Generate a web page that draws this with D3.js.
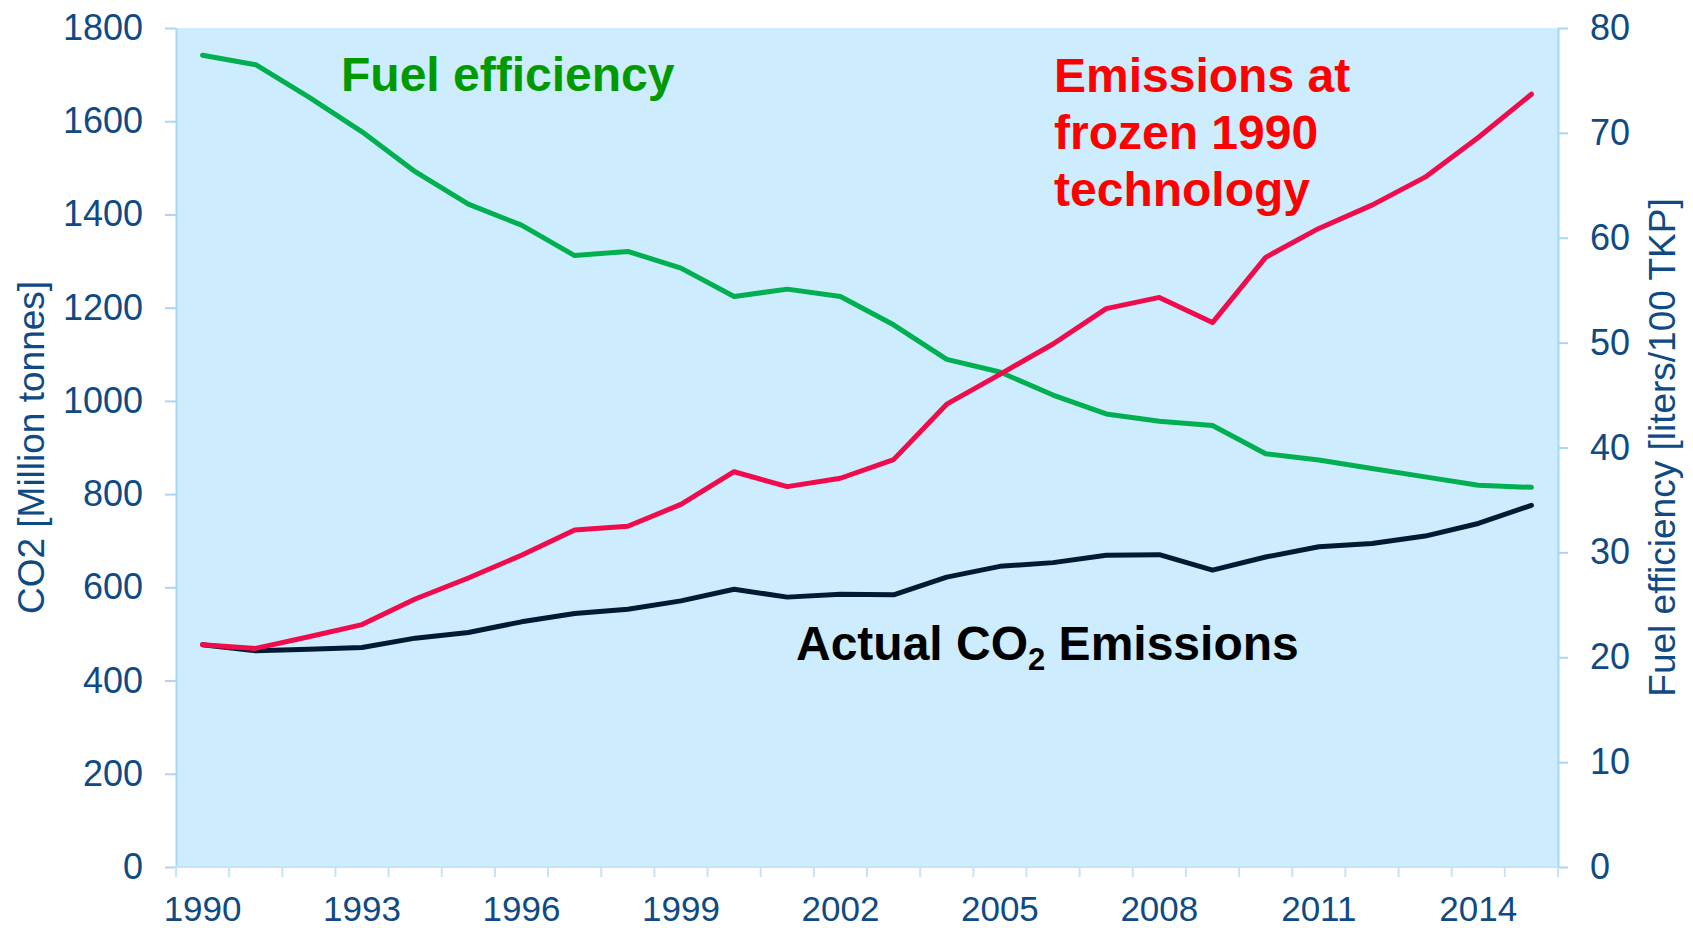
<!DOCTYPE html>
<html>
<head>
<meta charset="utf-8">
<script src="https://cdn.jsdelivr.net/npm/d3@7"></script>
<style>
  html, body { margin: 0; padding: 0; background: #ffffff; }
  svg { display: block; font-family: "Liberation Sans", Arial, Helvetica, sans-serif; }
</style>
</head>
<body>
<svg id="chart" width="1693" height="928"></svg>
<script>
// Years on the category axis
const years = d3.range(1990, 2016);
// Years that carry a printed label
const labelYears = [1990, 1993, 1996, 1999, 2002, 2005, 2008, 2011, 2014];

// CO2 emissions if 1990 technology had stayed in use [Million tonnes]
const frozenEmissions = [477, 469, 494, 520, 575, 620, 669, 723, 731, 778, 848, 816, 834, 874, 993,
                         1057, 1122, 1198, 1222, 1168, 1308, 1370, 1420, 1480, 1565, 1658];
// Actual CO2 emissions [Million tonnes]
const actualEmissions = [477, 464, 467, 471, 491, 503, 526, 544, 553, 571, 596, 579, 585, 584, 622,
                         645, 653, 669, 670, 637, 665, 687, 694, 710, 737, 776];
// Fuel efficiency [liters/100 TKP], right axis
const fuelEfficiency = [77.4, 76.5, 73.4, 70.1, 66.3, 63.2, 61.2, 58.3, 58.7, 57.1, 54.4, 55.1, 54.4,
                        51.7, 48.4, 47.2, 45.0, 43.2, 42.5, 42.1, 39.4, 38.8, 38.0, 37.2, 36.4, 36.2];

const leftTicks = d3.range(0, 1801, 200);
const rightTicks = d3.range(0, 81, 10);

const svg = d3.select("#chart");
const W = 1693, H = 928;
const margin = { top: 28, right: 135, bottom: 61, left: 176 };
const x0 = margin.left, x1 = W - margin.right;
const yTop = margin.top, yBot = H - margin.bottom;

const axisColor = "#a9d6f2";
const textColor = "#0f4a84";
const fmt = d3.format("d");

const x = d3.scaleBand().domain(years).range([x0, x1]).padding(0);
const yL = d3.scaleLinear().domain([0, 1800]).range([yBot, yTop]);
const yR = d3.scaleLinear().domain([0, 80]).range([yBot, yTop]);

// plot area background
svg.append("rect")
  .attr("x", x0).attr("y", yTop)
  .attr("width", x1 - x0).attr("height", yBot - yTop)
  .attr("fill", "#cdecfd");

// left axis
const gL = svg.append("g").attr("transform", `translate(${x0},0)`)
  .call(d3.axisLeft(yL).tickValues(leftTicks).tickFormat(fmt).tickSize(11).tickPadding(22).tickSizeOuter(0));
// right axis
const gR = svg.append("g").attr("transform", `translate(${x1},0)`)
  .call(d3.axisRight(yR).tickValues(rightTicks).tickFormat(fmt).tickSize(10).tickPadding(22).tickSizeOuter(0));
// bottom axis: labels every third year
const gB = svg.append("g").attr("transform", `translate(0,${yBot})`)
  .call(d3.axisBottom(x).tickValues(labelYears).tickFormat(fmt).tickSize(0).tickPadding(29).tickSizeOuter(0));
gB.select(".domain").remove();

// bottom axis: a tick at every category boundary
const boundaries = years.map(y => x(y)).concat([x(years[years.length - 1]) + x.step()]);
svg.append("g").selectAll("line").data(boundaries).join("line")
  .attr("x1", d => d).attr("x2", d => d)
  .attr("y1", yBot).attr("y2", yBot + 10)
  .attr("stroke", "#c4e4f7").attr("stroke-width", 2);
svg.append("line")
  .attr("x1", x0).attr("x2", x1).attr("y1", yBot).attr("y2", yBot)
  .attr("stroke", "#c4e4f7").attr("stroke-width", 2);

[gL, gR, gB].forEach(g => {
  g.selectAll(".domain").attr("stroke", axisColor).attr("stroke-width", 2);
  g.selectAll(".tick line").attr("stroke", axisColor).attr("stroke-width", 2);
  g.selectAll(".tick text")
    .attr("fill", textColor)
    .style("font-size", "36px")
    .style("font-family", "'Liberation Sans', Arial, sans-serif");
});
gB.selectAll(".tick text").style("font-size", "35px");

// axis titles
svg.append("text")
  .attr("transform", `translate(44,${(yTop + yBot) / 2}) rotate(-90)`)
  .attr("text-anchor", "middle")
  .attr("fill", textColor)
  .style("font-size", "37px")
  .text("CO2 [Million tonnes]");
svg.append("text")
  .attr("transform", `translate(1675,${(yTop + yBot) / 2}) rotate(-90)`)
  .attr("text-anchor", "middle")
  .attr("fill", textColor)
  .style("font-size", "37px")
  .text("Fuel efficiency [liters/100 TKP]");

// series lines
const cx = d => x(d) + x.bandwidth() / 2;
const lineL = vals => d3.line().x((d, i) => cx(years[i])).y(d => yL(d))(vals);
const lineR = vals => d3.line().x((d, i) => cx(years[i])).y(d => yR(d))(vals);

const series = [
  { path: lineR(fuelEfficiency), color: "#00b050" },
  { path: lineL(actualEmissions), color: "#001a33" },
  { path: lineL(frozenEmissions), color: "#f00c4c" }
];
svg.append("g").selectAll("path").data(series).join("path")
  .attr("d", d => d.path)
  .attr("fill", "none")
  .attr("stroke", d => d.color)
  .attr("stroke-width", 5)
  .attr("stroke-linecap", "round")
  .attr("stroke-linejoin", "round");

// series labels
svg.append("text")
  .attr("x", 341).attr("y", 91)
  .attr("fill", "#009a00")
  .style("font-size", "48px").style("font-weight", "bold")
  .text("Fuel efficiency");

const red = svg.append("text")
  .attr("fill", "#ff0000")
  .style("font-size", "48px").style("font-weight", "bold");
["Emissions at", "frozen 1990", "technology"].forEach((t, i) => {
  red.append("tspan").attr("x", 1054).attr("y", 92 + i * 56.8).text(t);
});

const act = svg.append("text")
  .attr("x", 796).attr("y", 660)
  .attr("fill", "#000000")
  .style("font-size", "48px").style("font-weight", "bold");
act.append("tspan").text("Actual CO");
act.append("tspan").attr("dy", 10).style("font-size", "31px").text("2");
act.append("tspan").attr("dy", -10).text(" Emissions");
</script>
</body>
</html>
